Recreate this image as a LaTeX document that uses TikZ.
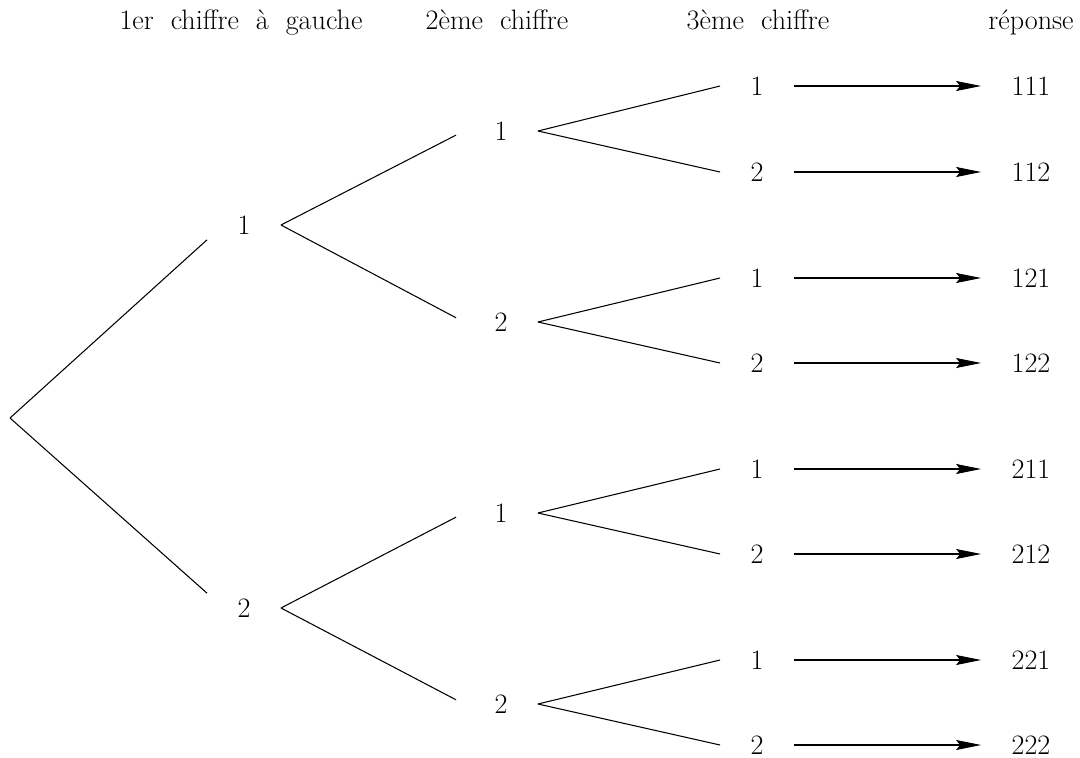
\documentclass[tikz,border=0pt]{standalone}
\usetikzlibrary{arrows.meta}

\begin{document}
\begin{tikzpicture}[x=0.02cm,y=-0.02cm,line width=0.6pt,
        every node/.style={inner xsep=0.6cm,inner ysep=0.1cm,font=\fontsize{16}{19}\selectfont},
        titre/.style={anchor=base,inner sep=0pt,font={\fontsize{16}{19}\selectfont\spaceskip 0.34cm\relax}},
        fleche/.style={-{Stealth[length=0.5cm,width=0.2cm,inset=0.08cm]}}]
        \useasboundingbox (0,0) rectangle (1080,758);

        % en-tetes
        \node[titre] (t1) at (241,29) {1er chiffre à gauche};
        \node[titre] (t2) at (497,29) {2ème chiffre};
        \node[titre] (t3) at (758,29) {3ème chiffre};
        \node[titre] (t4) at (1031,29) {réponse};

        \coordinate (r) at (10,418);

        \node (n1) at (244,225) {1};
        \node (n2) at (244,608) {2};

        \node (n11) at (501,131) {1};
        \node (n12) at (501,322) {2};
        \node (n21) at (501,513) {1};
        \node (n22) at (501,704) {2};

        \node (n111) at (757,86) {1};
        \node (n112) at (757,172) {2};
        \node (n121) at (757,278) {1};
        \node (n122) at (757,363) {2};
        \node (n211) at (757,469) {1};
        \node (n212) at (757,554) {2};
        \node (n221) at (757,660) {1};
        \node (n222) at (757,745) {2};

        \node (s111) at (1031,86) {111};
        \node (s112) at (1031,172) {112};
        \node (s121) at (1031,278) {121};
        \node (s122) at (1031,363) {122};
        \node (s211) at (1031,469) {211};
        \node (s212) at (1031,554) {212};
        \node (s221) at (1031,660) {221};
        \node (s222) at (1031,745) {222};

        \draw (r) -- (n1.south west);
        \draw (r) -- (n2.north west);

        \draw[shorten >=0.18cm] (n1.east) -- (n11.west);
        \draw[shorten >=0.18cm] (n1.east) -- (n12.west);
        \draw[shorten >=0.18cm] (n2.east) -- (n21.west);
        \draw[shorten >=0.18cm] (n2.east) -- (n22.west);

        \draw (n11.east) -- (n111.west);
        \draw (n11.east) -- (n112.west);
        \draw (n12.east) -- (n121.west);
        \draw (n12.east) -- (n122.west);
        \draw (n21.east) -- (n211.west);
        \draw (n21.east) -- (n212.west);
        \draw (n22.east) -- (n221.west);
        \draw (n22.east) -- (n222.west);

        \draw[fleche] (n111) -- (s111);
        \draw[fleche] (n112) -- (s112);
        \draw[fleche] (n121) -- (s121);
        \draw[fleche] (n122) -- (s122);
        \draw[fleche] (n211) -- (s211);
        \draw[fleche] (n212) -- (s212);
        \draw[fleche] (n221) -- (s221);
        \draw[fleche] (n222) -- (s222);
    \end{tikzpicture}
\end{document}
